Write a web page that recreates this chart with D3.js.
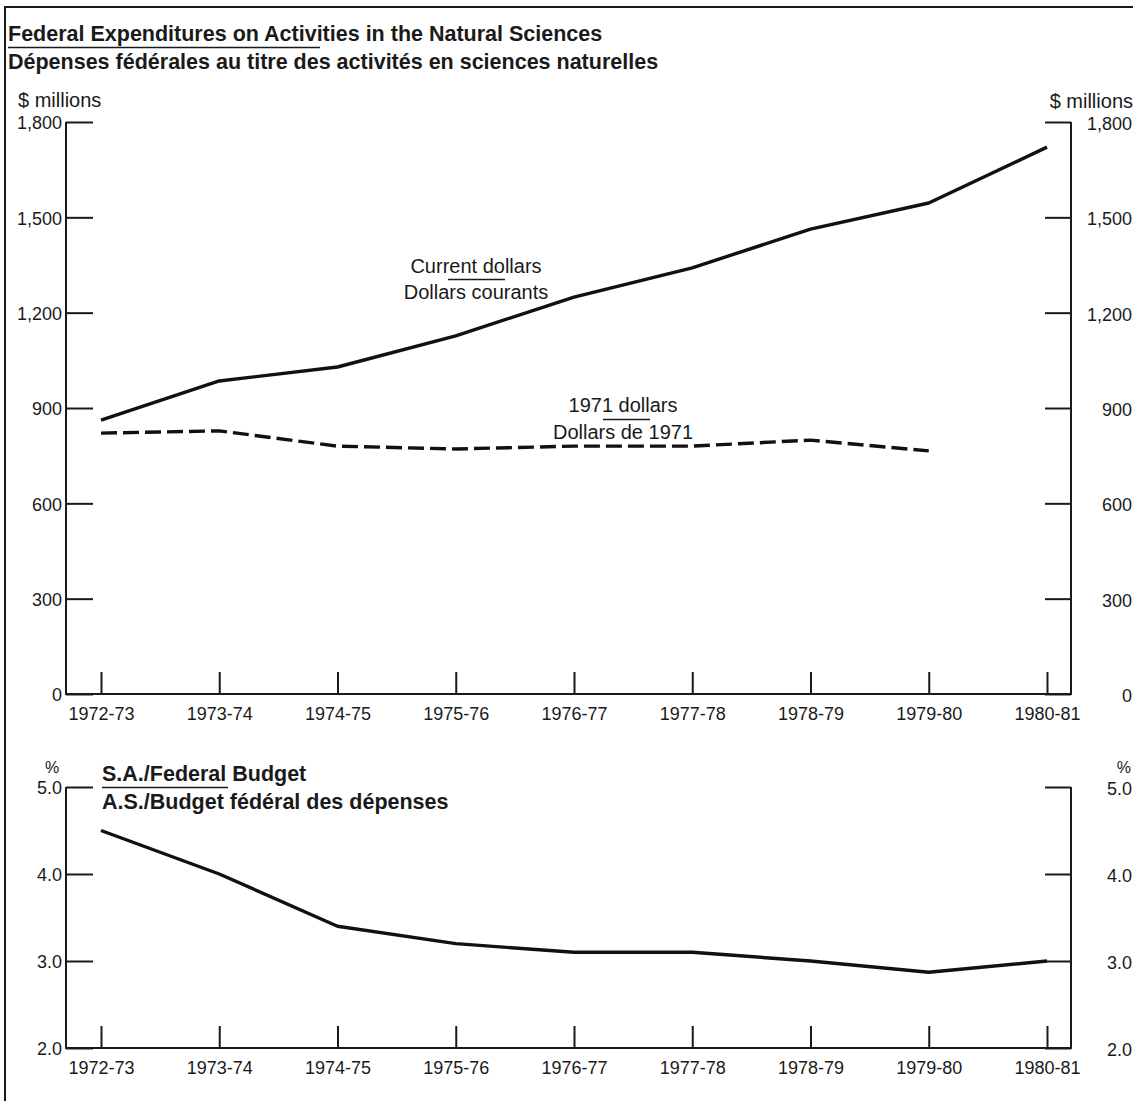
<!DOCTYPE html>
<html><head><meta charset="utf-8">
<script src="https://cdn.jsdelivr.net/npm/d3@7"></script>
<style>
html,body{margin:0;padding:0;background:#fff;}
svg text{font-family:"Liberation Sans",Arial,Helvetica,sans-serif;fill:#1a1a1a;}
</style></head>
<body>
<svg id="c" width="1133" height="1101"></svg>
<script>
const years = ["1972-73","1973-74","1974-75","1975-76","1976-77","1977-78","1978-79","1979-80","1980-81"];
const currentDollars = [862, 985, 1029, 1127, 1249, 1341, 1463, 1545, 1721];
const constDollars = [821, 828, 780, 771, 780, 780, 799, 765];
const budgetShare = [4.5, 4.0, 3.4, 3.2, 3.1, 3.1, 3.0, 2.87, 3.0];
const topTicks = [0, 300, 600, 900, 1200, 1500, 1800];
const botTicks = [2.0, 3.0, 4.0, 5.0];

const svg = d3.select("#c");
const ink = "#1a1a1a";

// frame
svg.append("path").attr("d","M5,1101 V7 H1133").attr("fill","none").attr("stroke",ink).attr("stroke-width",2);

// titles
svg.append("text").attr("x",8).attr("y",41).attr("font-size",21.5).attr("font-weight","bold")
  .text("Federal Expenditures on Activities in the Natural Sciences");
svg.append("line").attr("x1",8).attr("x2",320).attr("y1",47.5).attr("y2",47.5).attr("stroke",ink).attr("stroke-width",1.5);
svg.append("text").attr("x",8).attr("y",69).attr("font-size",21.5).attr("font-weight","bold")
  .text("Dépenses fédérales au titre des activités en sciences naturelles");

const L = 66, R = 1071;
const x = d3.scalePoint().domain(years).range([101, 1047]);

function panel(y, ticks, fmt, unitLeft, unitRight, unitY, unitRY) {
  const [y0, y1] = y.range();
  svg.append("path").attr("d",`M${L},${y1} V${y0} H${R} V${y1}`).attr("fill","none").attr("stroke",ink).attr("stroke-width",2);
  const gl = svg.append("g").attr("transform",`translate(${L},0)`)
    .call(d3.axisLeft(y).tickValues(ticks).tickFormat(fmt).tickSize(-27).tickSizeOuter(0).tickPadding(4));
  const gr = svg.append("g").attr("transform",`translate(${R},0)`)
    .call(d3.axisRight(y).tickValues(ticks).tickFormat(fmt).tickSize(-26).tickSizeOuter(0).tickPadding(4));
  const gx = svg.append("g").attr("transform",`translate(0,${y0})`)
    .call(d3.axisBottom(x).tickSize(-22).tickSizeOuter(0).tickPadding(10));
  [gl,gr,gx].forEach(g=>{
    g.select(".domain").remove();
    g.selectAll(".tick line").attr("stroke",ink).attr("stroke-width",2);
    g.selectAll(".tick text").attr("font-size",18).attr("fill",ink).attr("font-family",null);
  });
  gr.selectAll(".tick text").attr("text-anchor","end").attr("x",61).attr("dy","0.42em");
  gl.selectAll(".tick text").attr("x",-4).attr("dy","0.38em");
  gx.selectAll(".tick text").attr("dy","0.9em");
  svg.append("text").attr("x",unitLeft.x).attr("y",unitY).attr("font-size",unitLeft.fs).attr("text-anchor",unitLeft.anchor).text(unitLeft.t);
  svg.append("text").attr("x",unitRight.x).attr("y",unitRY).attr("font-size",unitRight.fs).attr("text-anchor","end").text(unitRight.t);
}

// top panel
const yTop = d3.scaleLinear().domain([0,1800]).range([694,122]);
panel(yTop, topTicks, d3.format(","), {x:18,t:"$ millions",fs:20,anchor:"start"}, {x:1133,t:"$ millions",fs:20}, 107, 108);

const line1 = d3.line().x((d,i)=>x(years[i])).y(d=>yTop(d));
svg.append("path").datum(currentDollars).attr("d",line1).attr("fill","none").attr("stroke","#111").attr("stroke-width",3.4).attr("stroke-linejoin","round");
svg.append("path").datum(constDollars).attr("d",line1).attr("fill","none").attr("stroke","#111").attr("stroke-width",3.4).attr("stroke-dasharray","16,6");

// series labels
svg.append("text").attr("x",476).attr("y",273).attr("font-size",20).attr("text-anchor","middle").text("Current dollars");
svg.append("line").attr("x1",448).attr("x2",505).attr("y1",279.5).attr("y2",279.5).attr("stroke",ink).attr("stroke-width",1.5);
svg.append("text").attr("x",476).attr("y",299).attr("font-size",20).attr("text-anchor","middle").text("Dollars courants");

svg.append("text").attr("x",623).attr("y",412).attr("font-size",20).attr("text-anchor","middle").text("1971 dollars");
svg.append("line").attr("x1",603).attr("x2",650).attr("y1",419.5).attr("y2",419.5).attr("stroke",ink).attr("stroke-width",1.5);
svg.append("text").attr("x",623).attr("y",439).attr("font-size",20).attr("text-anchor","middle").text("Dollars de 1971");

// bottom panel
const yBot = d3.scaleLinear().domain([2,5]).range([1048,787]);
panel(yBot, botTicks, d3.format(".1f"), {x:52,t:"%",fs:16,anchor:"middle"}, {x:1131,t:"%",fs:16}, 773, 773);

const line2 = d3.line().x((d,i)=>x(years[i])).y(d=>yBot(d));
svg.append("path").datum(budgetShare).attr("d",line2).attr("fill","none").attr("stroke","#111").attr("stroke-width",3.4).attr("stroke-linejoin","round");

svg.append("text").attr("x",102).attr("y",781).attr("font-size",21.5).attr("font-weight","bold").text("S.A./Federal Budget");
svg.append("line").attr("x1",102).attr("x2",228).attr("y1",787.5).attr("y2",787.5).attr("stroke",ink).attr("stroke-width",1.5);
svg.append("text").attr("x",102).attr("y",809).attr("font-size",21.5).attr("font-weight","bold").text("A.S./Budget fédéral des dépenses");
</script>
</body></html>
